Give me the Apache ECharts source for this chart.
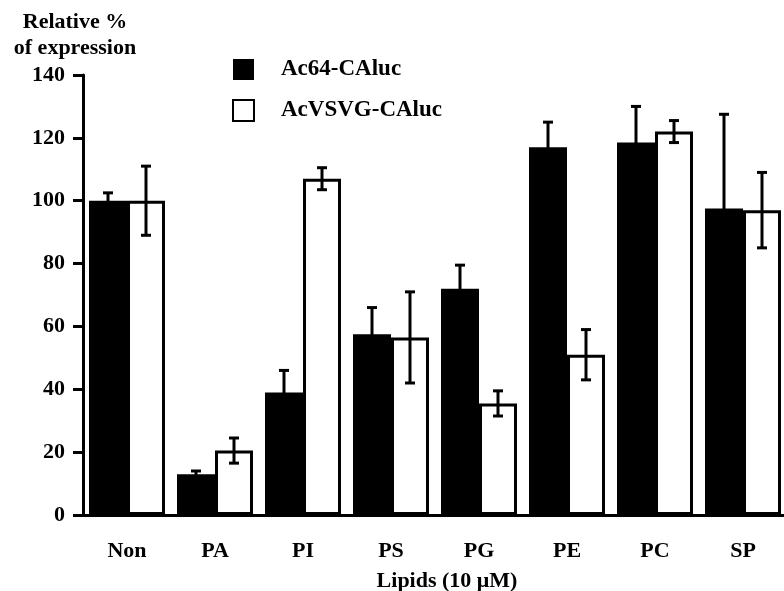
<!DOCTYPE html>
<html>
<head>
<meta charset="utf-8">
<script src="https://cdn.jsdelivr.net/npm/echarts@6/dist/echarts.min.js"></script>
<style>
  html, body { margin: 0; padding: 0; background: #fff; }
  #chart { width: 784px; height: 591px; }
</style>
</head>
<body>
<div id="chart"></div>
<script>
// 数据
var categories = ['Non', 'PA', 'PI', 'PS', 'PG', 'PE', 'PC', 'SP']
var ac64 = [100, 13, 39, 57.5, 72, 117, 118.5, 97.5]
var ac64Err = [2.5, 1, 7, 8.5, 7.5, 8, 11.5, 30]
var acvsvg = [100, 20.5, 107, 56.5, 35.5, 51, 122, 97]
var acvsvgErr = [11, 4, 3.5, 14.5, 4, 8, 3.5, 12]
var yTicks = [0, 20, 40, 60, 80, 100, 120, 140]

var font = '"Liberation Serif", "Times New Roman", serif'
var barW = 38

// 误差线 renderItem
function errorBar(offset) {
  return function (params, api) {
    var x = api.value(0)
    var hi = api.coord([x, api.value(1) + api.value(2)])
    var lo = api.coord([x, api.value(1) - api.value(2)])
    var cx = hi[0] + offset
    var cap = 5
    var st = { stroke: '#000', lineWidth: 3 }
    return {
      type: 'group',
      children: [
        { type: 'line', shape: { x1: cx, y1: hi[1], x2: cx, y2: lo[1] }, style: st },
        { type: 'line', shape: { x1: cx - cap, y1: hi[1], x2: cx + cap, y2: hi[1] }, style: st },
        { type: 'line', shape: { x1: cx - cap, y1: lo[1], x2: cx + cap, y2: lo[1] }, style: st }
      ]
    }
  }
}

var myChart = echarts.init(document.getElementById('chart'))
var options = {
  backgroundColor: '#fff',
  animation: false,
  grid: { left: 83, right: -3, top: 75, bottom: 76, outerBoundsMode: 'none' },
  graphic: [
    {
      type: 'text',
      x: 75,
      y: 9,
      style: {
        text: 'Relative %\nof expression',
        textAlign: 'center',
        font: 'bold 22px ' + font,
        lineHeight: 26,
        fill: '#000'
      }
    }
  ],
  legend: {
    orient: 'vertical',
    left: 232,
    top: 58,
    padding: 0,
    itemWidth: 21,
    itemHeight: 21,
    itemGap: 18,
    icon: 'rect',
    data: ['Ac64-CAluc', 'AcVSVG-CAluc'],
    textStyle: {
      fontFamily: font,
      fontWeight: 'bold',
      fontSize: 23,
      color: '#000',
      padding: [0, 0, 0, 22]
    }
  },
  xAxis: {
    type: 'category',
    data: categories,
    name: 'Lipids (10 μM)',
    nameLocation: 'middle',
    nameGap: 55,
    nameTextStyle: {
      fontFamily: font, fontWeight: 'bold', fontSize: 22, color: '#000',
      padding: [0, 0, 0, 24]
    },
    axisLine: { lineStyle: { color: '#000', width: 3 } },
    axisTick: { show: false },
    axisLabel: {
      fontFamily: font, fontWeight: 'bold', fontSize: 22, color: '#000', margin: 25
    }
  },
  yAxis: {
    type: 'value',
    min: 0,
    max: 140,
    interval: 20,
    splitLine: { show: false },
    axisLine: { show: true, lineStyle: { color: '#000', width: 3 } },
    axisTick: { show: true, length: 10, lineStyle: { color: '#000', width: 3 } },
    axisLabel: {
      fontFamily: font, fontWeight: 'bold', fontSize: 22, color: '#000', margin: 18,
      formatter: function (v) { return yTicks.indexOf(v) >= 0 ? String(v) : '' }
    }
  },
  series: [
    {
      name: 'Ac64-CAluc',
      type: 'bar',
      barWidth: barW,
      barGap: '0%',
      itemStyle: { color: '#000', borderColor: '#000', borderWidth: 0 },
      data: ac64
    },
    {
      name: 'AcVSVG-CAluc',
      type: 'bar',
      barWidth: barW,
      barGap: '0%',
      itemStyle: { color: '#fff', borderColor: '#000', borderWidth: 3 },
      data: acvsvg
    },
    {
      type: 'custom',
      renderItem: errorBar(-barW / 2),
      data: ac64.map(function (v, i) { return [i, v, ac64Err[i]] }),
      z: 5
    },
    {
      type: 'custom',
      renderItem: errorBar(barW / 2),
      data: acvsvg.map(function (v, i) { return [i, v, acvsvgErr[i]] }),
      z: 5
    }
  ]
}
myChart.setOption(options)
</script>
</body>
</html>
